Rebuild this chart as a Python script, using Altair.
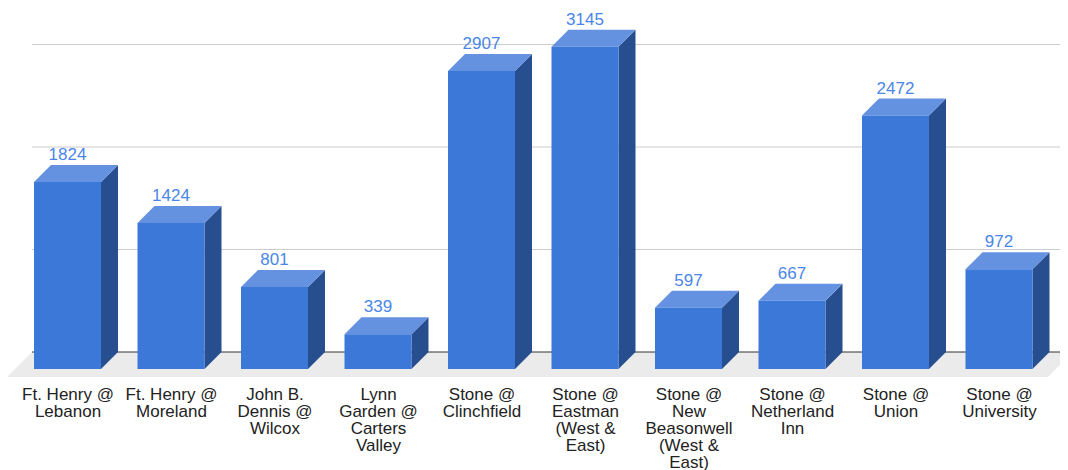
import json
import altair as alt
import pandas as pd

# ---- data ----
categories = [
    ["Ft. Henry @", "Lebanon"],
    ["Ft. Henry @", "Moreland"],
    ["John B.", "Dennis @", "Wilcox"],
    ["Lynn", "Garden @", "Carters", "Valley"],
    ["Stone @", "Clinchfield"],
    ["Stone @", "Eastman", "(West &", "East)"],
    ["Stone @", "New", "Beasonwell", "(West &", "East)"],
    ["Stone @", "Netherland", "Inn"],
    ["Stone @", "Union"],
    ["Stone @", "University"],
]
values = [1824, 1424, 801, 339, 2907, 3145, 597, 667, 2472, 972]
grid_values = [1000, 2000, 3000]

# ---- style / geometry constants (pixels) ----
W, H = 1052, 369
PX_CAT = 103.5          # pixels per category slot
PX_UNIT = 0.1025        # pixels per value unit
FIRST_CENTER_PX = 59.5  # first bar centre, from view left
BAR_HALF_PX = 33.5
DEPTH_PX = 17
FLOOR_FRONT_PX = 8      # floor extends this much in front of the bars

FRONT = "#3c78d8"
TOP = "#6592e0"
SIDE = "#274f8f"
LABEL = "#4a86e8"
FONT = "Liberation Sans"

x_min = -FIRST_CENTER_PX / PX_CAT
x_max = x_min + W / PX_CAT
y_min = -FLOOR_FRONT_PX / PX_UNIT
y_max = y_min + H / PX_UNIT
dxu = DEPTH_PX / PX_CAT
dyu = DEPTH_PX / PX_UNIT
hw = BAR_HALF_PX / PX_CAT

xs = alt.Scale(domain=[x_min, x_max], nice=False, zero=False)
ys = alt.Scale(domain=[y_min, y_max], nice=False, zero=False)

n = len(values)
label_expr = "(" + json.dumps(categories) + ")[datum.value]"
X_AXIS = alt.Axis(
    values=list(range(n)), labelExpr=label_expr, title=None, grid=False,
    ticks=False, domain=False, labelFontSize=17, labelFont=FONT,
    labelColor="#222222", labelLineHeight=17, labelPadding=9,
    labelFlush=False, labelOverlap=False, labelBound=False)

bars = pd.DataFrame({
    "i": list(range(n)),
    "value": values,
    "base": [0] * n,
    "x0": [i - hw for i in range(n)],
    "x1": [i + hw for i in range(n)],
})

side_rows, top_rows = [], []
for i, v in enumerate(values):
    side_rows.append({"i": i, "x": i + hw, "y": 0, "y2": v})
    side_rows.append({"i": i, "x": i + hw + dxu, "y": dyu, "y2": v + dyu})
    top_rows.append({"i": i, "y": v, "x": i - hw, "x2": i + hw})
    top_rows.append({"i": i, "y": v + dyu, "x": i - hw + dxu, "x2": i + hw + dxu})
side_df = pd.DataFrame(side_rows)
top_df = pd.DataFrame(top_rows)

floor_left = x_min - 1 / PX_CAT
floor_right = x_min + 1040 / PX_CAT
shift = (DEPTH_PX + FLOOR_FRONT_PX) / PX_CAT
floor_df = pd.DataFrame([
    {"y": y_min, "x": floor_left, "x2": floor_right},
    {"y": dyu, "x": floor_left + shift, "x2": floor_right + shift},
])
back_left = floor_left + shift

grid_df = pd.DataFrame({"y": [g + dyu for g in grid_values],
                        "x": back_left, "x2": x_max})
base_df = pd.DataFrame({"y": [dyu], "x": [back_left], "x2": [x_max]})


def X(field):
    return alt.X(field, scale=xs, axis=X_AXIS)


def Y(field):
    return alt.Y(field, scale=ys, axis=None)


floor = alt.Chart(floor_df).mark_area(orient="horizontal", color="#ebebeb").encode(
    y=Y("y:Q"), x=X("x:Q"), x2="x2:Q")
grid = alt.Chart(grid_df).mark_rule(color="#cccccc", strokeWidth=1).encode(
    y=Y("y:Q"), x=X("x:Q"), x2="x2:Q")
baseline = alt.Chart(base_df).mark_rule(color="#333333", strokeWidth=1).encode(
    y=Y("y:Q"), x=X("x:Q"), x2="x2:Q")
side = alt.Chart(side_df).mark_area(orient="vertical", color=SIDE).encode(
    x=X("x:Q"), y=Y("y:Q"), y2="y2:Q", detail="i:N")
top = alt.Chart(top_df).mark_area(orient="horizontal", color=TOP).encode(
    y=Y("y:Q"), x=X("x:Q"), x2="x2:Q", detail="i:N")
front = alt.Chart(bars).mark_rect(color=FRONT).encode(
    x=X("x0:Q"), x2="x1:Q", y=Y("base:Q"), y2="value:Q")
text = alt.Chart(bars).mark_text(fontSize=17, font=FONT, color=LABEL,
                                 baseline="alphabetic", dy=-22).encode(
    x=X("i:Q"), y=Y("value:Q"), text=alt.Text("value:Q", format="d"))

chart = alt.layer(floor, grid, baseline, side, top, front, text).properties(
    width=W, height=H,
    autosize=alt.AutoSizeParams(type="none"),
    padding={"left": 0, "top": 0, "right": 0, "bottom": 100},
    background="white",
).configure_view(stroke=None)

chart.save("out.html", embed_options={"renderer": "svg", "actions": False})
